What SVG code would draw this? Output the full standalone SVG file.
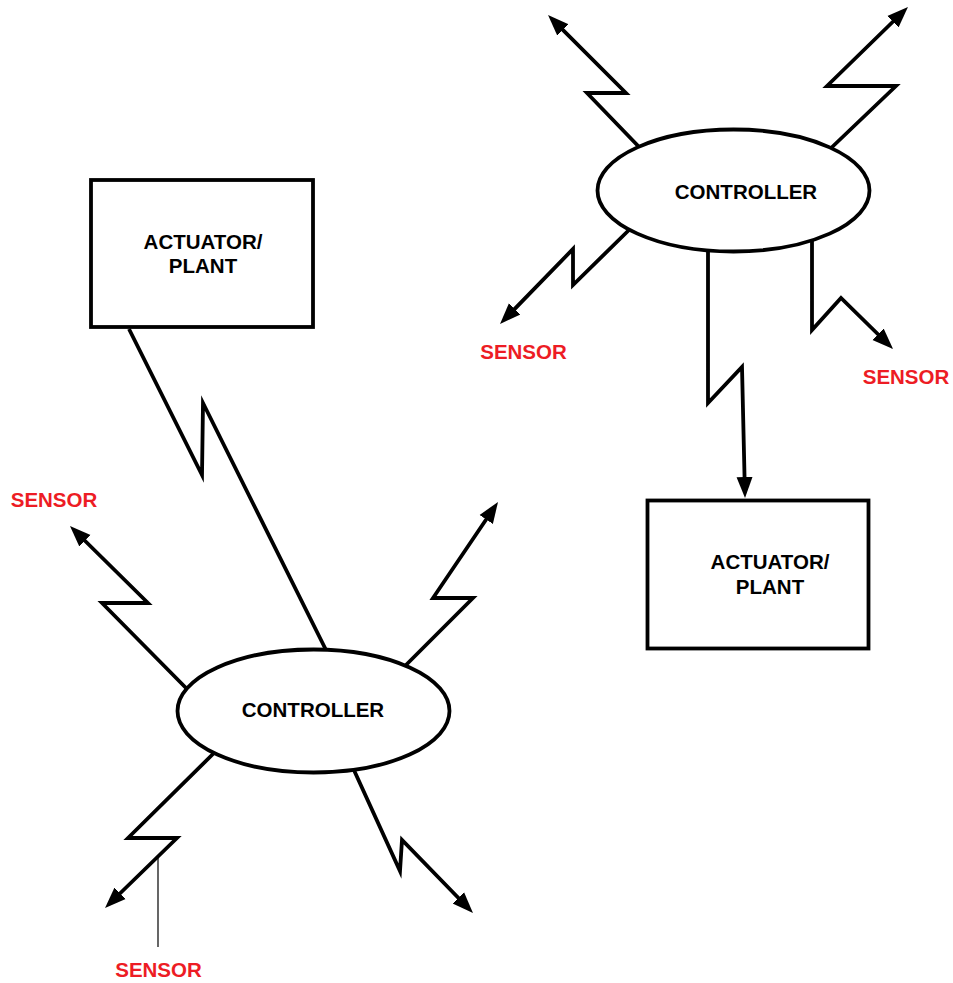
<svg xmlns="http://www.w3.org/2000/svg" width="953" height="983" viewBox="0 0 953 983">
  <style>
    .wire { fill: none; stroke: #000; stroke-width: 3.8; stroke-linejoin: miter; stroke-miterlimit: 10; }
    .lead { fill: none; stroke: #000; stroke-width: 1.2; }
    .shape { fill: #fff; stroke: #000; stroke-width: 3.8; }
    .label { font-family: "Liberation Sans", Arial, sans-serif; font-weight: bold; font-size: 20.5px; fill: #000; text-anchor: middle; }
    .sensor { font-family: "Liberation Sans", Arial, sans-serif; font-weight: bold; font-size: 20.5px; fill: #ed1c24; text-anchor: middle; }
  </style>
  <defs>
    <marker id="head" markerUnits="userSpaceOnUse" markerWidth="24" markerHeight="20" viewBox="0 -10 24 20" refX="11" refY="0" orient="auto">
      <path d="M0,-8 L21,0 L0,8 z" fill="#000"/>
    </marker>
  </defs>

  <!-- wireless links -->
  <g id="connectors">
    <!-- upper controller -->
    <path class="wire" d="M642,150 L587,93 L626,93 L555.1,22.1" marker-end="url(#head)"/>
    <path class="wire" d="M829,150 L896,86 L827,86 L900.8,14" marker-end="url(#head)"/>
    <path class="wire" d="M630,229 L573,285 L573,249 L507,316.8" marker-end="url(#head)"/>
    <path class="wire" d="M708,248 L708,403 L742,367 L744.8,488" marker-end="url(#head)"/>
    <path class="wire" d="M812,238 L812,330 L841,298 L885.9,342" marker-end="url(#head)"/>
    <!-- lower controller -->
    <path class="wire" d="M129,329 L202,475 L203,403 L328,654"/>
    <path class="wire" d="M188,690 L102,603 L148,603 L77.1,533" marker-end="url(#head)"/>
    <path class="wire" d="M405,666 L473,598 L433,598 L492.4,510.3" marker-end="url(#head)"/>
    <path class="wire" d="M215,752 L128,838 L177,838 L112.2,901" marker-end="url(#head)"/>
    <path class="wire" d="M353,768 L400,871 L402,840 L466,905.8" marker-end="url(#head)"/>
    <path class="lead" d="M158,857 L158,947"/>
  </g>

  <g id="controller-upper">
    <ellipse class="shape" cx="733.5" cy="190.5" rx="136" ry="61"/>
    <text class="label" x="746" y="199">CONTROLLER</text>
  </g>

  <g id="controller-lower">
    <ellipse class="shape" cx="313.5" cy="711" rx="136" ry="61.5"/>
    <text class="label" x="313" y="717">CONTROLLER</text>
  </g>

  <g id="actuator-left">
    <rect class="shape" x="91" y="180" width="222" height="147"/>
    <text class="label" x="203" y="249">ACTUATOR/</text>
    <text class="label" x="203" y="273">PLANT</text>
  </g>

  <g id="actuator-right">
    <rect class="shape" x="647.5" y="500.5" width="221" height="148"/>
    <text class="label" x="770" y="569">ACTUATOR/</text>
    <text class="label" x="770" y="594">PLANT</text>
  </g>

  <g id="sensor-labels">
    <text class="sensor" x="523.5" y="359">SENSOR</text>
    <text class="sensor" x="906" y="384">SENSOR</text>
    <text class="sensor" x="54" y="506.5">SENSOR</text>
    <text class="sensor" x="158.5" y="977">SENSOR</text>
  </g>
</svg>
